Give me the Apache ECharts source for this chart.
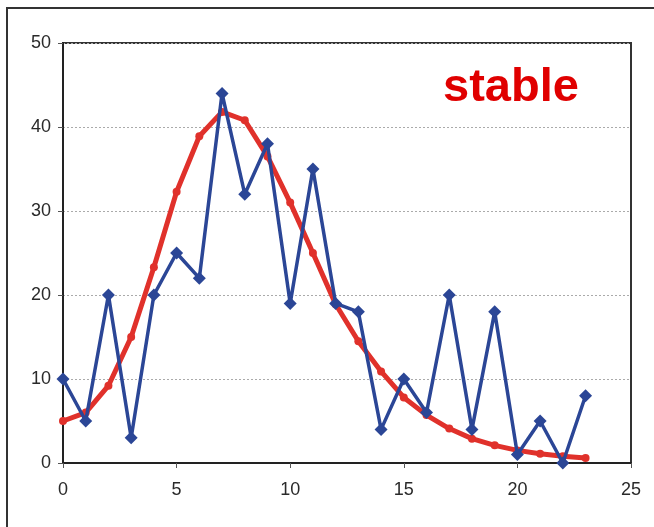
<!DOCTYPE html>
<html>
<head>
<meta charset="utf-8">
<script src="https://cdn.jsdelivr.net/npm/echarts@6/dist/echarts.min.js"></script>
<style>
  html, body { margin: 0; padding: 0; background: #fff; }
  #chart { width: 654px; height: 527px; }
</style>
</head>
<body>
<div id="chart"></div>
<script>
  // x 位置 0..23
  const xValues = [0, 1, 2, 3, 4, 5, 6, 7, 8, 9, 10, 11, 12, 13, 14, 15, 16, 17, 18, 19, 20, 21, 22, 23];
  // 蓝色折线（观测值）
  const observed = [10, 5, 20, 3, 20, 25, 22, 44, 32, 38, 19, 35, 19, 18, 4, 10, 6, 20, 4, 18, 1, 5, 0, 8];
  // 红色曲线（拟合）
  const fitted = [5, 6, 9.2, 15, 23.3, 32.3, 38.9, 41.8, 40.8, 36.5, 31, 25, 18.9, 14.5, 10.9, 7.8, 5.7, 4.1, 2.9, 2.1, 1.5, 1.1, 0.8, 0.6];
  const xTicks = [0, 5, 10, 15, 20, 25];
  const yTicks = [0, 10, 20, 30, 40, 50];
  const labelText = 'stable';

  const pairs = (ys) => xValues.map((x, i) => [x, ys[i]]);

  const chart = echarts.init(document.getElementById('chart'));
  chart.setOption({
    animation: false,
    backgroundColor: '#fff',
    grid: {
      left: 63, top: 43, right: 23, bottom: 64,
      show: true,
      borderColor: '#333',
      borderWidth: 2
    },
    xAxis: {
      type: 'value',
      min: xTicks[0],
      max: xTicks[xTicks.length - 1],
      interval: 5,
      axisLine: { show: true, lineStyle: { color: '#222', width: 2 } },
      axisTick: { show: true, length: 5, lineStyle: { color: '#555' } },
      axisLabel: { color: '#2a2a2a', fontSize: 18, fontFamily: 'Liberation Sans, Arial', margin: 18 },
      splitLine: { show: false }
    },
    yAxis: {
      type: 'value',
      min: yTicks[0],
      max: yTicks[yTicks.length - 1],
      interval: 10,
      axisLine: { show: true, lineStyle: { color: '#222', width: 2 } },
      axisTick: { show: true, length: 5, lineStyle: { color: '#555' } },
      axisLabel: { color: '#2a2a2a', fontSize: 18, fontFamily: 'Liberation Sans, Arial', margin: 12 },
      splitLine: { show: true, lineStyle: { color: '#aaa', width: 1, type: [2, 2] } }
    },
    graphic: [
      {
        type: 'rect',
        silent: true,
        shape: { x: 7, y: 8, width: 720, height: 600 },
        style: { fill: 'none', stroke: '#333', lineWidth: 2 }
      },
      {
        type: 'text',
        left: 443,
        top: 65,
        z: 10,
        style: {
          text: labelText,
          fill: '#e00000',
          font: 'bold 47px "Liberation Sans", Arial, sans-serif'
        }
      }
    ],
    series: [
      {
        name: 'fit',
        type: 'line',
        data: pairs(fitted),
        symbol: 'circle',
        symbolSize: 8,
        lineStyle: { color: '#e0312b', width: 5 },
        itemStyle: { color: '#e0312b' },
        z: 2
      },
      {
        name: 'observed',
        type: 'line',
        data: pairs(observed),
        symbol: 'diamond',
        symbolSize: 13,
        lineStyle: { color: '#2b4696', width: 3.5 },
        itemStyle: { color: '#2b4696' },
        z: 3
      }
    ]
  });
</script>
</body>
</html>
